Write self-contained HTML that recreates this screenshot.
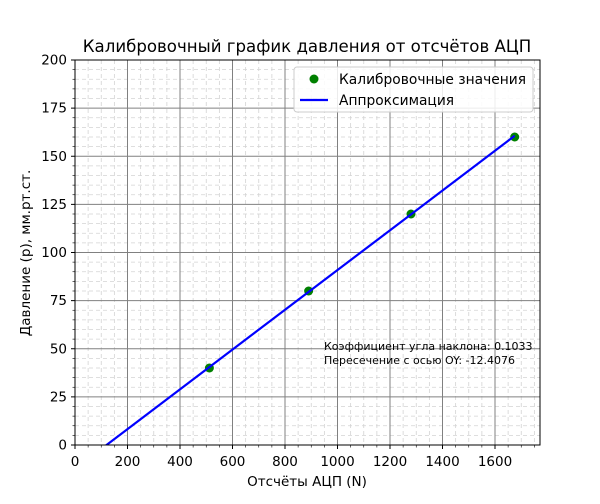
<!DOCTYPE html>
<html><head><meta charset="utf-8"><style>
body{margin:0;background:#fff;font-family:"DejaVu Sans","Liberation Sans",sans-serif}
svg text{font-family:"DejaVu Sans","Liberation Sans",sans-serif}
</style></head><body>
<svg id="chart" width="600" height="500" xmlns="http://www.w3.org/2000/svg">
<defs><clipPath id="pa"><rect x="75" y="60" width="465" height="385"/></clipPath></defs>
<g id="grid" clip-path="url(#pa)"></g>
<g id="marks" clip-path="url(#pa)"></g>
<rect x="75" y="60" width="465" height="385" fill="none" stroke="#000" stroke-width="1"/>
<g id="ticks"></g>
<text x="307" y="52" text-anchor="middle" font-size="16.6">Калибровочный график давления от отсчётов АЦП</text>
<text x="307" y="486" text-anchor="middle" font-size="13.5">Отсчёты АЦП (N)</text>
<text transform="translate(30,253) rotate(-90)" text-anchor="middle" font-size="13.5">Давление (p), мм.рт.ст.</text>
<g>
<rect x="294" y="67" width="239" height="45" rx="3" fill="#fff" fill-opacity="0.85" stroke="#ccc"/>
<circle cx="314" cy="79" r="4.5" fill="green"/>
<text x="339" y="84" font-size="13.8">Калибровочные значения</text>
<line x1="300" y1="100" x2="328" y2="100" stroke="#00f" stroke-width="2.2"/>
<text x="339" y="105" font-size="13.8">Аппроксимация</text>
</g>
<text x="324" y="350" font-size="11">Коэффициент угла наклона: 0.1033</text>
<text x="324" y="364" font-size="11">Пересечение с осью OY: -12.4076</text>
</svg>
<script>
const xPoints=[512,890,1280,1675];
const yPoints=[40,80,120,160];
const slope=0.1033;
const intercept=-12.4076;
const xTicks=[0,200,400,600,800,1000,1200,1400,1600];
const yTicks=[0,25,50,75,100,125,150,175,200];
const NS="http://www.w3.org/2000/svg";
const X=v=>75+v*0.2625, Y=v=>445-v*1.925;
function mk(t,a,p){const e=document.createElementNS(NS,t);for(const k in a)e.setAttribute(k,a[k]);p.appendChild(e);return e;}
const grid=document.getElementById('grid'),marks=document.getElementById('marks'),ticks=document.getElementById('ticks');
for(let v=0;v<=1770;v+=50){if(v%200){const l=mk('line',{x1:X(v),x2:X(v),y1:60,y2:445,stroke:'#d3d3d3','stroke-dasharray':'4,3','stroke-width':0.8},grid);


mk('line',{x1:X(v),x2:X(v),y1:445,y2:447.5,stroke:'#000','stroke-width':0.6},ticks);}}
for(let v=0;v<=200;v+=5){if(v%25){const l=mk('line',{x1:75,x2:540,y1:Y(v),y2:Y(v),stroke:'#d3d3d3','stroke-dasharray':'4,3','stroke-width':0.8},grid);


mk('line',{x1:72.5,x2:75,y1:Y(v),y2:Y(v),stroke:'#000','stroke-width':0.6},ticks);}}
xTicks.forEach(v=>{const l=mk('line',{x1:X(v),x2:X(v),y1:60,y2:445,stroke:'#808080','stroke-width':1},grid);


mk('line',{x1:X(v),x2:X(v),y1:445,y2:449,stroke:'#000'},ticks);
const t=mk('text',{x:X(v),y:466,'text-anchor':'middle','font-size':13.5},ticks);t.textContent=v;

});
yTicks.forEach(v=>{const l=mk('line',{x1:75,x2:540,y1:Y(v),y2:Y(v),stroke:'#808080','stroke-width':1},grid);


mk('line',{x1:71,x2:75,y1:Y(v),y2:Y(v),stroke:'#000'},ticks);
const t=mk('text',{x:67,y:Y(v)+4.5,'text-anchor':'end','font-size':13.5},ticks);t.textContent=v;

});
xPoints.forEach((x,i)=>{const c=mk('circle',{cx:X(x),cy:Y(yPoints[i]),r:4.5,fill:'green'},marks);

});
const x0=0,x1=xPoints[xPoints.length-1];
const ln=mk('line',{x1:X(x0),y1:Y(slope*x0+intercept),x2:X(x1),y2:Y(slope*x1+intercept),stroke:'#00f','stroke-width':2.2},marks);


</script>
</body></html>
